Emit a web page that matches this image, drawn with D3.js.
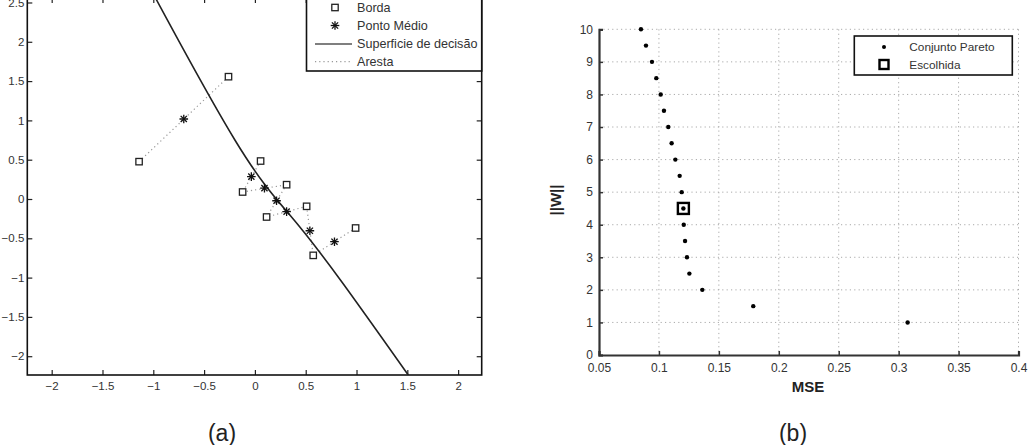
<!DOCTYPE html>
<html lang="en">
<head>
    <meta charset="UTF-8">
    <title>Borda / Pareto</title>
    <style>
        body { margin: 0; background: #fff; }
        svg text { font-family: 'Liberation Sans', Arial, Helvetica, sans-serif; }
    </style>
    <script src="https://d3js.org/d3.v7.min.js"></script>
</head>
<body>
    <svg id="chart" width="1033" height="445"></svg>
    <script>
        // ---- data, panel (a)
        let bordaX = [-1.14, -0.26, 0.056, -0.121, 0.312, 0.509, 0.115, 0.991, 0.574];
        let bordaY = [0.475, 1.556, 0.483, 0.089, 0.182, -0.093, -0.229, -0.369, -0.717];
        let medioX = [-0.70, -0.035, 0.094, 0.213, 0.312, 0.541, 0.783];
        let medioY = [1.018, 0.285, 0.138, -0.022, -0.160, -0.404, -0.543];
        let arestas = [[0, 1], [2, 3], [3, 4], [4, 6], [5, 6], [5, 8], [7, 8]];
        let superficieX = [-1.01, -0.968, -0.197, 0.344, 0.856, 1.509, 1.535];
        let superficieY = [2.62, 2.532, 0.751, -0.204, -1.056, -2.239, -2.28];
        let ticksAX = [-2, -1.5, -1, -0.5, 0, 0.5, 1, 1.5, 2];
        let ticksAY = [-2, -1.5, -1, -0.5, 0, 0.5, 1, 1.5, 2, 2.5];
        let legendA = ["Borda", "Ponto Médio", "Superficie de decisão", "Aresta"];

        // ---- data, panel (b)
        let mse = [0.085, 0.0892, 0.0942, 0.0978, 0.1015, 0.1042, 0.1078, 0.1106, 0.1137, 0.1173, 0.119,
                   0.1204, 0.1207, 0.1218, 0.1234, 0.1254, 0.1362, 0.1787, 0.3075];
        let normW = [10, 9.5, 9, 8.5, 8, 7.5, 7, 6.5, 6, 5.5, 5, 4.5, 4, 3.5, 3, 2.5, 2, 1.5, 1];
        let escolhida = [0.1204, 4.5];
        let ticksBX = [0.05, 0.1, 0.15, 0.2, 0.25, 0.3, 0.35, 0.4];
        let ticksBY = [0, 1, 2, 3, 4, 5, 6, 7, 8, 9, 10];
        let legendB = ["Conjunto Pareto", "Escolhida"];

        let svg = d3.select("#chart");

        // ================= panel (a) =================
        let a = {left: 27.3, right: 481.7, top: -2, bottom: 375};
        let xa = d3.scaleLinear().domain([-2.24, 2.232]).range([a.left, a.right]);
        let ya = d3.scaleLinear().domain([-2.239, 2.557]).range([a.bottom, a.top]);

        let ga = svg.append("g");

        ga.append("clipPath").attr("id", "clipA")
            .append("rect")
            .attr("x", a.left).attr("y", a.top)
            .attr("width", a.right - a.left).attr("height", a.bottom - a.top);

        let tickFmt = d3.format("");

        // axes (ticks inward on every side)
        ga.append("g")
            .attr("transform", "translate(0," + a.bottom + ")")
            .call(d3.axisBottom(xa).tickValues(ticksAX).tickSize(-5).tickPadding(7).tickFormat(tickFmt));
        ga.append("g")
            .attr("transform", "translate(0," + a.top + ")")
            .call(d3.axisTop(xa).tickValues(ticksAX).tickSize(-5).tickFormat(""));
        ga.append("g")
            .attr("transform", "translate(" + a.left + ",0)")
            .call(d3.axisLeft(ya).tickValues(ticksAY).tickSize(-5).tickPadding(3).tickFormat(tickFmt));
        ga.append("g")
            .attr("transform", "translate(" + a.right + ",0)")
            .call(d3.axisRight(ya).tickValues(ticksAY).tickSize(-5).tickFormat(""));

        ga.selectAll(".domain").remove();
        ga.selectAll(".tick line").attr("stroke", "#222").attr("stroke-width", 1.2);
        ga.selectAll(".tick text").attr("fill", "#333").style("font-size", "11.5px");

        ga.append("rect")
            .attr("x", a.left).attr("y", a.top)
            .attr("width", a.right - a.left).attr("height", a.bottom - a.top)
            .attr("fill", "none").attr("stroke", "#111").attr("stroke-width", 1.6);

        let plotA = ga.append("g").attr("clip-path", "url(#clipA)");

        // arestas (dotted edges)
        plotA.selectAll(".aresta")
            .data(arestas)
            .enter().append("line")
            .attr("class", "aresta")
            .attr("x1", d => xa(bordaX[d[0]])).attr("y1", d => ya(bordaY[d[0]]))
            .attr("x2", d => xa(bordaX[d[1]])).attr("y2", d => ya(bordaY[d[1]]))
            .attr("stroke", "#999").attr("stroke-width", 1.2).attr("stroke-dasharray", "1.2,3");

        // decision surface
        let surf = superficieX.map((v, i) => [v, superficieY[i]]);
        plotA.append("path")
            .datum(surf)
            .attr("d", d3.line().x(d => xa(d[0])).y(d => ya(d[1])).curve(d3.curveNatural))
            .attr("fill", "none").attr("stroke", "#222").attr("stroke-width", 1.6);

        function drawStar(g, cx, cy, r) {
            let arms = [[0, r, 0, -r], [r, 0, -r, 0], [r * 0.72, r * 0.72, -r * 0.72, -r * 0.72], [r * 0.72, -r * 0.72, -r * 0.72, r * 0.72]];
            arms.forEach(function(s) {
                g.append("line")
                    .attr("x1", cx + s[0]).attr("y1", cy + s[1])
                    .attr("x2", cx + s[2]).attr("y2", cy + s[3])
                    .attr("stroke", "#111").attr("stroke-width", 1.3);
            });
        }

        // borda squares
        plotA.selectAll(".borda")
            .data(bordaX)
            .enter().append("rect")
            .attr("class", "borda")
            .attr("x", (d, i) => xa(d) - 3.2).attr("y", (d, i) => ya(bordaY[i]) - 3.2)
            .attr("width", 6.4).attr("height", 6.4)
            .attr("fill", "#fff").attr("stroke", "#222").attr("stroke-width", 1.3);

        // ponto medio stars
        medioX.forEach(function(v, i) {
            drawStar(plotA, xa(v), ya(medioY[i]), 4.3);
        });

        // legend (a)
        let lgA = ga.append("g");
        lgA.append("rect")
            .attr("x", 306.5).attr("y", -6)
            .attr("width", a.right - 306.5).attr("height", 77)
            .attr("fill", "#fff").attr("stroke", "#111").attr("stroke-width", 1.6);
        let lgAy = [7.5, 25.5, 44, 61.7];
        lgA.selectAll(".lgtext")
            .data(legendA)
            .enter().append("text")
            .attr("x", 357).attr("y", (d, i) => lgAy[i])
            .attr("dy", "0.35em")
            .attr("fill", "#333").style("font-size", "12.6px")
            .text(d => d);
        lgA.append("rect")
            .attr("x", 335 - 3.2).attr("y", lgAy[0] - 3.2).attr("width", 6.4).attr("height", 6.4)
            .attr("fill", "#fff").attr("stroke", "#222").attr("stroke-width", 1.3);
        drawStar(lgA, 335, lgAy[1], 4.3);
        lgA.append("line")
            .attr("x1", 315).attr("x2", 352).attr("y1", lgAy[2]).attr("y2", lgAy[2])
            .attr("stroke", "#555").attr("stroke-width", 1.6);
        lgA.append("line")
            .attr("x1", 315).attr("x2", 352).attr("y1", lgAy[3]).attr("y2", lgAy[3])
            .attr("stroke", "#999").attr("stroke-width", 1.2).attr("stroke-dasharray", "1.2,3");

        // ================= panel (b) =================
        let b = {left: 599, right: 1018.5, top: 29.3, bottom: 355};
        let xb = d3.scaleLinear().domain([0.05, 0.4]).range([b.left, b.right]);
        let yb = d3.scaleLinear().domain([0, 10]).range([b.bottom, b.top]);

        let gb = svg.append("g");

        // dotted grid
        gb.selectAll(".gridx")
            .data(ticksBX.slice(1))
            .enter().append("line")
            .attr("x1", d => xb(d)).attr("x2", d => xb(d))
            .attr("y1", b.top).attr("y2", b.bottom)
            .attr("stroke", "#aaa").attr("stroke-width", 1).attr("stroke-dasharray", "1.2,3.2");
        gb.selectAll(".gridy")
            .data(ticksBY.slice(1))
            .enter().append("line")
            .attr("x1", b.left).attr("x2", b.right)
            .attr("y1", d => yb(d)).attr("y2", d => yb(d))
            .attr("stroke", "#aaa").attr("stroke-width", 1).attr("stroke-dasharray", "1.2,3.2");

        gb.append("g")
            .attr("transform", "translate(0," + b.bottom + ")")
            .call(d3.axisBottom(xb).tickValues(ticksBX).tickSize(-4).tickPadding(8.5).tickFormat(d3.format("")));
        gb.append("g")
            .attr("transform", "translate(" + b.left + ",0)")
            .call(d3.axisLeft(yb).tickValues(ticksBY).tickSize(-4).tickPadding(6).tickFormat(d3.format("")));

        gb.selectAll(".domain").attr("stroke", "#333").attr("stroke-width", 2.2);
        gb.selectAll(".tick line").attr("stroke", "#333").attr("stroke-width", 1.5);
        gb.selectAll(".tick text").attr("fill", "#333").style("font-size", "12px");

        // pareto points
        gb.selectAll(".pareto")
            .data(mse)
            .enter().append("circle")
            .attr("class", "pareto")
            .attr("cx", d => xb(d))
            .attr("cy", (d, i) => yb(normW[i]))
            .attr("r", 2.2)
            .attr("fill", "#000");

        // chosen solution
        gb.append("rect")
            .attr("x", xb(escolhida[0]) - 5.5).attr("y", yb(escolhida[1]) - 5.5)
            .attr("width", 11).attr("height", 11)
            .attr("fill", "none").attr("stroke", "#000").attr("stroke-width", 2.4);

        // axis labels
        gb.append("text")
            .attr("transform", "translate(561,200) rotate(-90)")
            .attr("text-anchor", "middle")
            .attr("fill", "#222")
            .style("font-size", "15px").style("font-weight", "bold")
            .text("||W||");
        gb.append("text")
            .attr("x", 808).attr("y", 392)
            .attr("text-anchor", "middle")
            .attr("fill", "#222")
            .style("font-size", "15px").style("font-weight", "bold")
            .text("MSE");

        // legend (b)
        let lgB = gb.append("g");
        lgB.append("rect")
            .attr("x", 854.3).attr("y", 36).attr("width", 158).attr("height", 39)
            .attr("fill", "#fff").attr("stroke", "#111").attr("stroke-width", 1.6);
        let lgBy = [47, 64.5];
        lgB.selectAll(".lgtext")
            .data(legendB)
            .enter().append("text")
            .attr("x", 909.3).attr("y", (d, i) => lgBy[i])
            .attr("dy", "0.35em")
            .attr("fill", "#333").style("font-size", "11.8px")
            .text(d => d);
        lgB.append("circle").attr("cx", 884).attr("cy", lgBy[0]).attr("r", 2).attr("fill", "#000");
        lgB.append("rect")
            .attr("x", 884 - 4.5).attr("y", lgBy[1] - 4.5).attr("width", 9).attr("height", 9)
            .attr("fill", "none").attr("stroke", "#000").attr("stroke-width", 2.4);

        // captions
        svg.append("text")
            .attr("x", 222).attr("y", 441)
            .attr("text-anchor", "middle")
            .attr("fill", "#222")
            .style("font-size", "23px")
            .text("(a)");
        svg.append("text")
            .attr("x", 793).attr("y", 441)
            .attr("text-anchor", "middle")
            .attr("fill", "#222")
            .style("font-size", "23px")
            .text("(b)");
    </script>
</body>
</html>
